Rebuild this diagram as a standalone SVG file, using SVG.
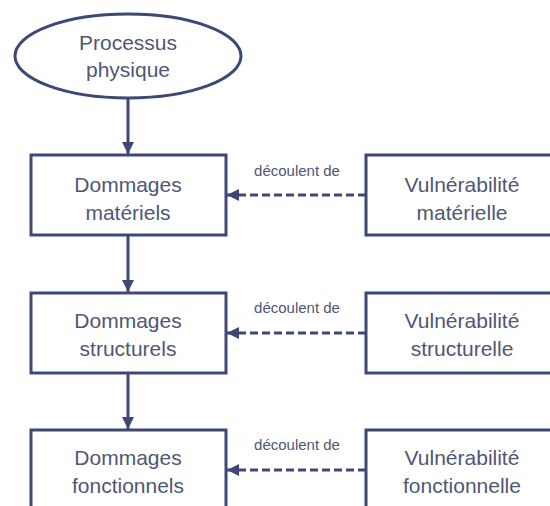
<svg xmlns="http://www.w3.org/2000/svg" width="550" height="506" viewBox="0 0 550 506">
<defs>
<style>
.box{fill:#fff;stroke:#3e4877;stroke-width:3}
.t{font-family:"Liberation Sans",Arial,sans-serif;font-size:21px;fill:#4f5775;text-anchor:middle}
.lbl{font-family:"Liberation Sans",Arial,sans-serif;font-size:15px;fill:#4f5775;text-anchor:middle}
.solid{stroke:#3e4877;stroke-width:3;fill:none}
.dash{stroke:#3e4877;stroke-width:3;fill:none;stroke-dasharray:8 4}
</style>
<marker id="ah" viewBox="0 0 10 10" refX="10" refY="5" markerWidth="4" markerHeight="4" markerUnits="strokeWidth" orient="auto">
<path d="M0,0 L10,5 L0,10 z" fill="#3e4877"/>
</marker>
</defs>
<rect width="550" height="506" fill="#fff"/>
<g id="connectors">
<line class="solid" x1="128" y1="98" x2="128" y2="154" marker-end="url(#ah)"/>
<line class="solid" x1="128" y1="236" x2="128" y2="292" marker-end="url(#ah)"/>
<line class="solid" x1="128" y1="373" x2="128" y2="429" marker-end="url(#ah)"/>
<line class="dash" x1="366" y1="195" x2="227" y2="195" marker-end="url(#ah)"/>
<line class="dash" x1="366" y1="333" x2="227" y2="333" marker-end="url(#ah)"/>
<line class="dash" x1="366" y1="470" x2="227" y2="470" marker-end="url(#ah)"/>
<text class="lbl" x="297" y="176">découlent de</text>
<text class="lbl" x="297" y="313">découlent de</text>
<text class="lbl" x="297" y="450">découlent de</text>
</g>
<g id="processus">
<ellipse class="box" cx="128" cy="56" rx="113" ry="42"/>
<text class="t" x="128" y="50">Processus</text>
<text class="t" x="128" y="77">physique</text>
</g>
<g id="dommages-materiels">
<rect class="box" x="31" y="155" width="195" height="80"/>
<text class="t" x="128" y="192">Dommages</text>
<text class="t" x="128" y="220">matériels</text>
</g>
<g id="dommages-structurels">
<rect class="box" x="31" y="293" width="195" height="80"/>
<text class="t" x="128" y="328">Dommages</text>
<text class="t" x="128" y="356">structurels</text>
</g>
<g id="dommages-fonctionnels">
<rect class="box" x="31" y="430" width="195" height="80"/>
<text class="t" x="128" y="465">Dommages</text>
<text class="t" x="128" y="493">fonctionnels</text>
</g>
<g id="vulnerabilite-materielle">
<rect class="box" x="366" y="155" width="195" height="80"/>
<text class="t" x="462" y="192">Vulnérabilité</text>
<text class="t" x="462" y="220">matérielle</text>
</g>
<g id="vulnerabilite-structurelle">
<rect class="box" x="366" y="293" width="195" height="80"/>
<text class="t" x="462" y="328">Vulnérabilité</text>
<text class="t" x="462" y="356">structurelle</text>
</g>
<g id="vulnerabilite-fonctionnelle">
<rect class="box" x="366" y="430" width="195" height="80"/>
<text class="t" x="462" y="465">Vulnérabilité</text>
<text class="t" x="462" y="493">fonctionnelle</text>
</g>
</svg>
